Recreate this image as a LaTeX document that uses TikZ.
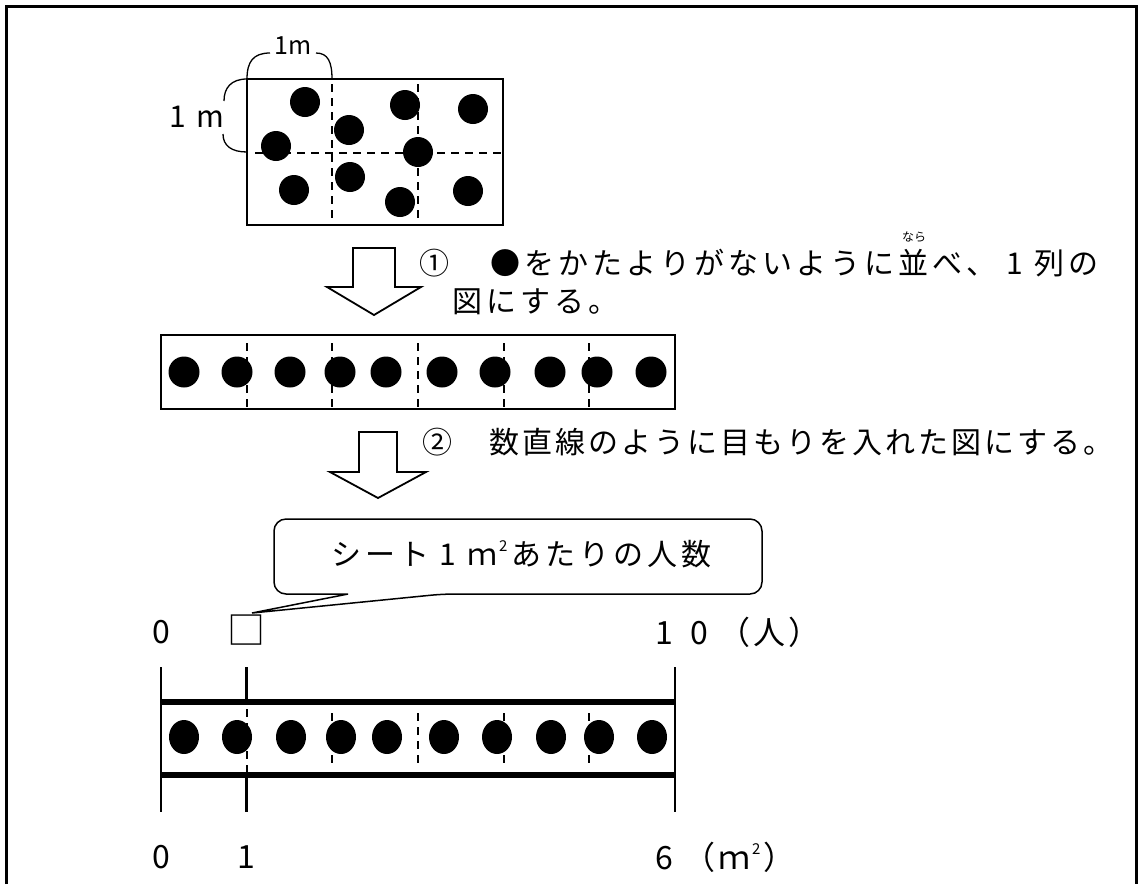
\documentclass[tikz,border=0pt]{standalone}
\usepackage{fontspec}
\setmainfont{Noto Sans CJK JP}
\newlength\pitchlen
\makeatletter
\def\spc@loop#1{\ifx#1\relax\else\makebox[\pitchlen][c]{#1}\expandafter\spc@loop\fi}
\newcommand\spaced[2]{\setlength\pitchlen{#1}\spc@loop#2\relax}
\makeatother
\newcommand\supTwo[1]{\raisebox{#1}{\fontsize{15}{15}\selectfont 2}}
\newcommand\dig{\fontsize{32}{34}\selectfont}
\tikzset{
  jt/.style={font=\fontsize{30}{32}\selectfont, inner sep=0pt},
  dg/.style={font=\dig, inner sep=0pt},
  boxline/.style={line width=2.2pt},
  dsh/.style={line width=2pt, dash pattern=on 8pt off 6pt},
  arr/.style={line width=1.8pt, line join=miter},
  dot/.style={fill=black},
}
\begin{document}
\begin{tikzpicture}[x=1pt,y=-1pt]
\useasboundingbox (0,0) rectangle (1139,884);
% frame
\draw[line width=3pt] (6,884) -- (6,6) -- (1136,6) -- (1136,884);

% ---- top rectangle ----
\draw[boxline] (247,79) rectangle (503,225);
\draw[dsh] (332,84) -- (332,222);
\draw[dsh] (418,84) -- (418,222);
\draw[dsh] (255,153) -- (503,153);
\foreach \x/\y in {305/102, 405/105, 473/109, 349/130, 276/146, 418/152, 350/177, 294/190, 400/202, 468/191}
  \fill[dot] (\x,\y) circle[radius=15pt];
% braces
\draw[line width=1.3pt] (247,79) .. controls (247,62) and (253,53) .. (270,53);
\draw[line width=1.3pt] (316,53) .. controls (328,53) and (332,62) .. (332,79);
\node[inner sep=0pt, font=\fontsize{25}{26}\selectfont] (topm) at (293,46) {1m};
\draw[line width=1.3pt] (247,79) .. controls (231,79) and (224,88) .. (224,101);
\draw[line width=1.3pt] (223,134) .. controls (223,146) and (232,152) .. (247,152);
\node[inner sep=0pt, anchor=west, font=\fontsize{30}{32}\selectfont] (leftm) at (162,117) {\spaced{32pt}{1m}};

% ---- arrow 1 ----
\draw[arr] (353,248) -- (395,248) -- (395,287) -- (421,287) -- (374,315) -- (327,287) -- (353,287) -- cycle;
\node[jt] (c1) at (434,263) {①};
\node[jt, anchor=west] (t1) at (488,263) {\spaced{34pt}{●をかたよりがないように並べ、1列の}};
\node[inner sep=0pt, font=\fontsize{12}{12}\selectfont] (ruby) at (914,237) {なら};
\node[jt, anchor=west] (t1b) at (450,302) {\spaced{34pt}{図にする。}};

% ---- row 1 ----
\draw[boxline] (161,335) rectangle (675,409);
\foreach \x in {246.7, 332.3, 418, 503.7, 589.3}
  \draw[dsh] (\x,343) -- (\x,409);
\foreach \x in {184, 237, 290, 340, 386, 442, 495, 550, 597, 651}
  \fill[dot] (\x,372) circle[radius=15.5pt];

% ---- arrow 2 ----
\draw[arr] (359,432) -- (397,432) -- (397,472) -- (426,472) -- (378,498) -- (330,472) -- (359,472) -- cycle;
\node[jt] (c2) at (437,442) {②};
\node[jt, anchor=west] (t2) at (488,442) {\spaced{33pt}{数直線のように目もりを入れた図にする。}};

% ---- callout ----
\draw[line width=1.5pt] (274,560) [rounded corners=12pt] -- (274,519) -- (762,519) -- (762,594) -- (443,594)
   [sharp corners] -- (252,613) -- (348,594) -- (330,594) [rounded corners=12pt] -- (274,594) -- (274,560);
\node[jt, anchor=west] (ct) at (329,554) {\spaced{34pt}{シート1ｍ}\supTwo{14pt}\hspace{2pt}\spaced{34pt}{あたりの人数}};

% ---- number line labels (top) ----
\node[dg] (n0) at (161,632) {0};
\node[inner sep=0pt, font=\fontsize{38}{40}\selectfont] (sq) at (246,630) {□};
\node[dg, anchor=west] (n10) at (647,632) {\spaced{35pt}{10（人）}};

% ---- band ----
\draw[line width=6pt] (161,702) -- (675,702);
\draw[line width=6pt] (161,775) -- (675,775);
\draw[line width=2.4pt] (161,667) -- (161,812);
\draw[line width=2.4pt] (675,667) -- (675,812);
\draw[line width=2.4pt] (246.5,667) -- (246.5,702);
\draw[line width=2.4pt] (246.5,775) -- (246.5,812);
\draw[dsh] (246.5,709) -- (246.5,772);
\foreach \x in {332.2, 418, 503.7, 589.3}
  \draw[dsh] (\x,713) -- (\x,767);
\foreach \x in {184, 237, 291, 341, 387, 444, 497, 551, 599, 652}
  \fill[dot] (\x,737) ellipse[x radius=15pt, y radius=17pt];

% ---- bottom labels ----
\node[dg] (b0) at (161,857) {0};
\node[dg] (b1) at (246,857) {1};
\node[dg, anchor=west] (b6) at (647,857) {\spaced{35pt}{6（ｍ}\supTwo{15pt}\hspace{3pt}）};
\end{tikzpicture}
\end{document}
